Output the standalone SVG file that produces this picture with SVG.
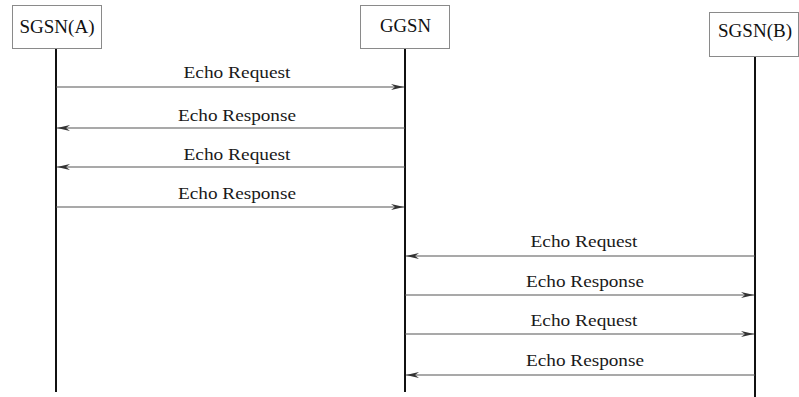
<svg xmlns="http://www.w3.org/2000/svg" width="799" height="397" viewBox="0 0 799 397">
<style>
.box{fill:#fff;stroke:#8a8a8a;stroke-width:1}
.life{stroke:#111;stroke-width:2}
.name{font-family:"Liberation Serif",serif;font-size:18px;fill:#111;text-anchor:middle}
.msg{stroke:#555;stroke-width:1.2;fill:none}
.lbl{font-family:"Liberation Serif",serif;font-size:17.5px;fill:#1a1a1a;text-anchor:middle}
</style>
<defs>
<marker id="ah" markerWidth="14" markerHeight="8" refX="13" refY="4" orient="auto-start-reverse" markerUnits="userSpaceOnUse">
<path d="M0,1 L13,4 L0,7 L4,4 Z" fill="#333"/>
</marker>
</defs>
<rect width="799" height="397" fill="#fff"/>
<g id="sgsnA">
<rect class="box" x="12.5" y="5.5" width="89" height="43"/>
<text class="name" x="57" y="33" textLength="75" lengthAdjust="spacingAndGlyphs">SGSN(A)</text>
<line class="life" x1="56" y1="49" x2="56" y2="392"/>
</g>
<g id="ggsn">
<rect class="box" x="360.5" y="5.5" width="89" height="43"/>
<text class="name" x="405.5" y="32" textLength="51" lengthAdjust="spacingAndGlyphs">GGSN</text>
<line class="life" x1="405" y1="49" x2="405" y2="392"/>
</g>
<g id="sgsnB">
<rect class="box" x="709.5" y="12.5" width="89" height="44"/>
<text class="name" x="755" y="37" textLength="74" lengthAdjust="spacingAndGlyphs">SGSN(B)</text>
<line class="life" x1="755" y1="57" x2="755" y2="397"/>
</g>
<g id="connectors">
<line class="msg" x1="56" y1="87" x2="404" y2="87" marker-end="url(#ah)"/>
<line class="msg" x1="405" y1="128" x2="57" y2="128" marker-end="url(#ah)"/>
<line class="msg" x1="405" y1="167" x2="57" y2="167" marker-end="url(#ah)"/>
<line class="msg" x1="56" y1="207" x2="404" y2="207" marker-end="url(#ah)"/>
<line class="msg" x1="755" y1="256" x2="406" y2="256" marker-end="url(#ah)"/>
<line class="msg" x1="405" y1="295" x2="754" y2="295" marker-end="url(#ah)"/>
<line class="msg" x1="405" y1="334" x2="754" y2="334" marker-end="url(#ah)"/>
<line class="msg" x1="755" y1="375" x2="406" y2="375" marker-end="url(#ah)"/>
</g>
<g id="labels">
<text class="lbl" x="237" y="78" textLength="107" lengthAdjust="spacingAndGlyphs">Echo Request</text>
<text class="lbl" x="237" y="121" textLength="118" lengthAdjust="spacingAndGlyphs">Echo Response</text>
<text class="lbl" x="237" y="160" textLength="107" lengthAdjust="spacingAndGlyphs">Echo Request</text>
<text class="lbl" x="237" y="199" textLength="118" lengthAdjust="spacingAndGlyphs">Echo Response</text>
<text class="lbl" x="584" y="247" textLength="107" lengthAdjust="spacingAndGlyphs">Echo Request</text>
<text class="lbl" x="585" y="287" textLength="118" lengthAdjust="spacingAndGlyphs">Echo Response</text>
<text class="lbl" x="584" y="326" textLength="107" lengthAdjust="spacingAndGlyphs">Echo Request</text>
<text class="lbl" x="585" y="366" textLength="118" lengthAdjust="spacingAndGlyphs">Echo Response</text>
</g>
</svg>
